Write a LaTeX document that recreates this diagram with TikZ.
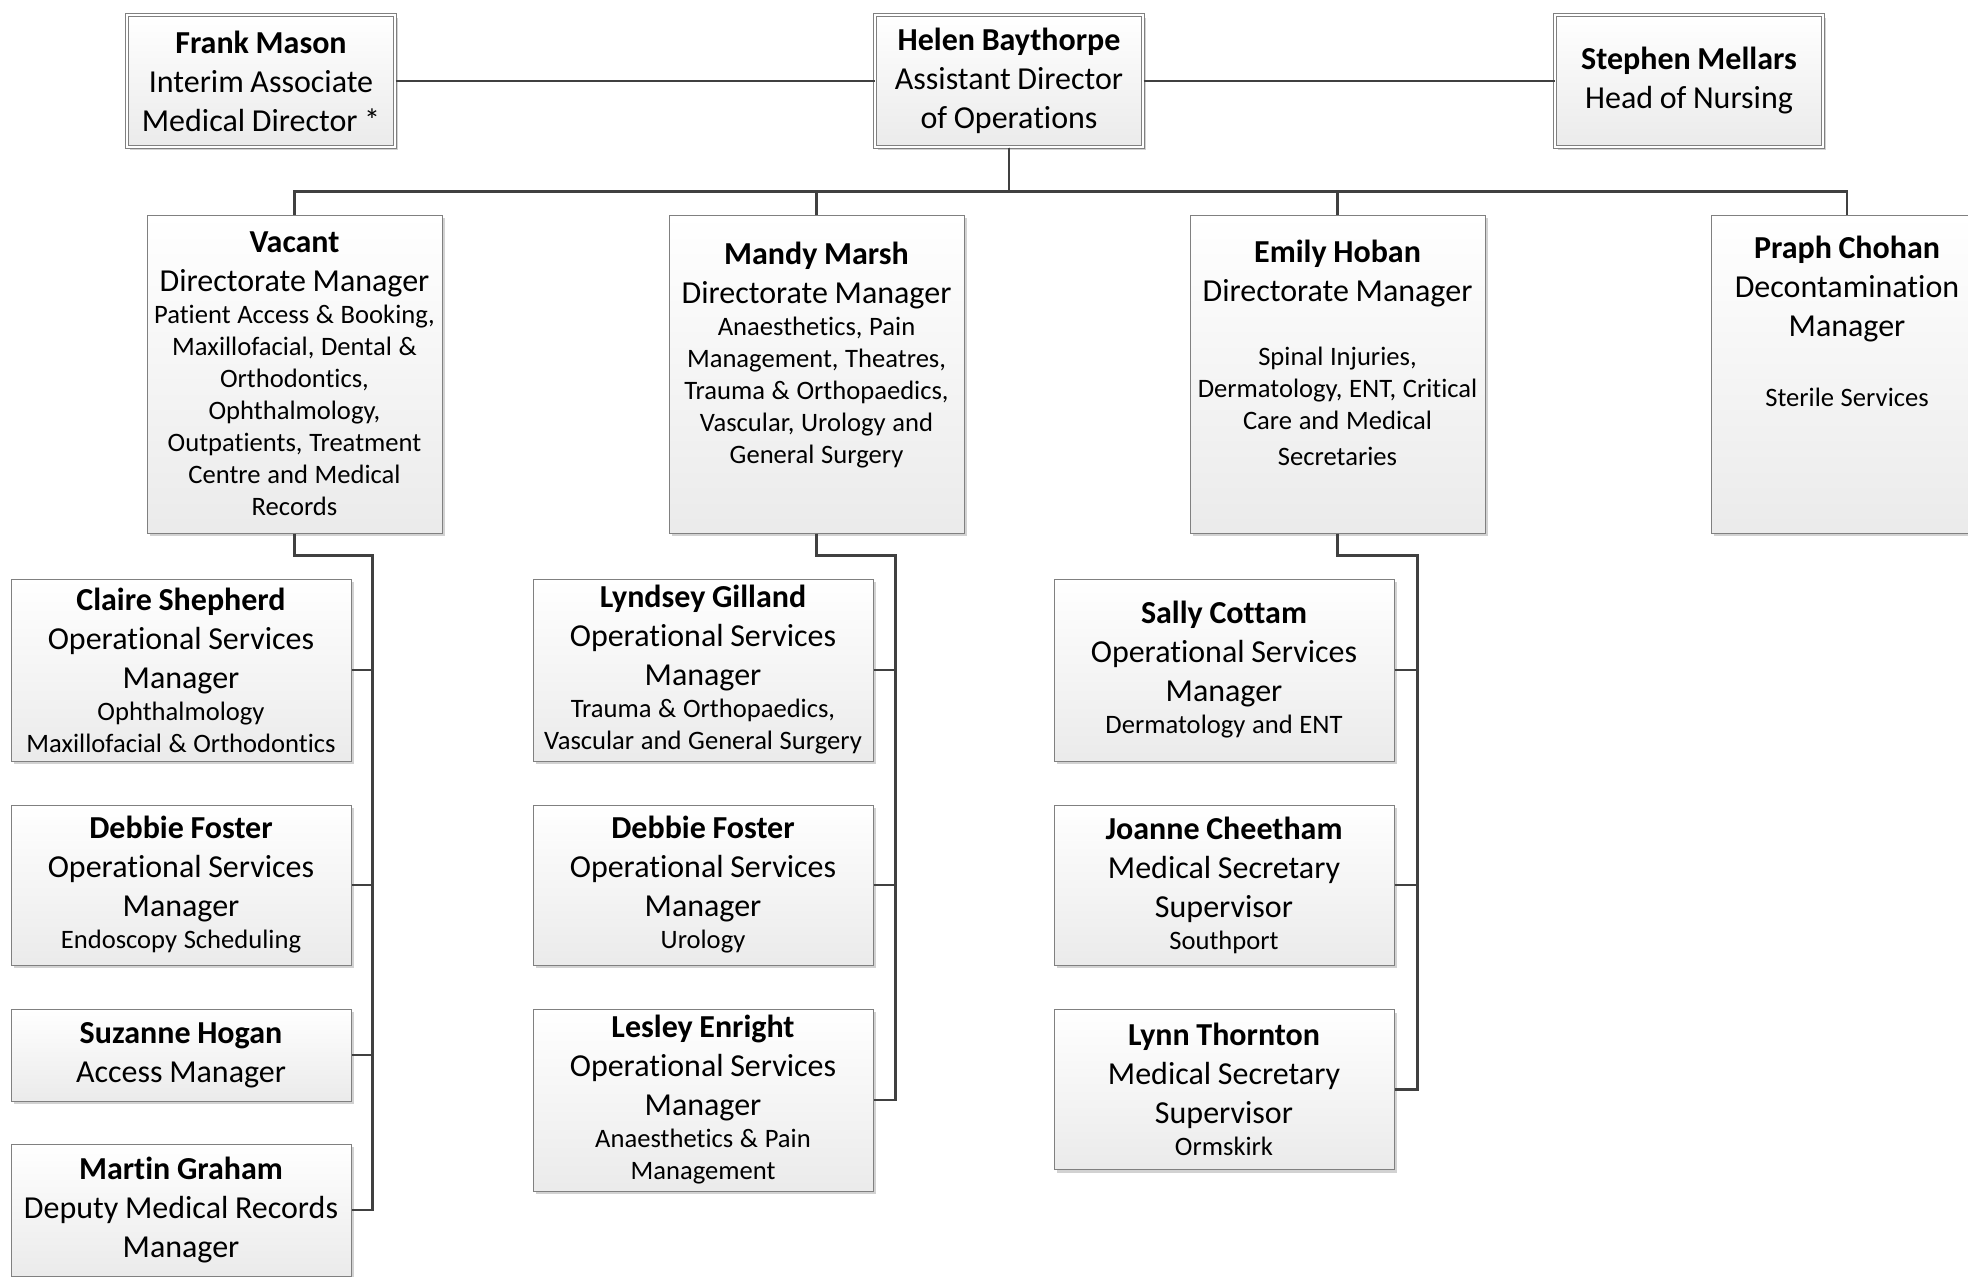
\documentclass[tikz,border=0pt]{standalone}
\usepackage{fontspec}
\setmainfont[Ligatures=NoCommon]{Carlito}
\usepackage{tikz}
\usetikzlibrary{shadows}
\setlength{\parindent}{0pt}
\setlength{\parskip}{0pt}

\newcommand{\pname}[1]{{\fontsize{16}{19.5}\selectfont\bfseries #1\par}}
\newcommand{\ptitle}[1]{{\fontsize{16}{19.5}\selectfont #1\par}}
\newcommand{\pdesc}[1]{{\fontsize{13.3}{16}\selectfont #1\par}}

\begin{document}
\begin{tikzpicture}[x=0.5pt, y=-0.5pt, node distance=107.5pt]
%
% Org chart: three people on top, four directorates below,
% staff hang off a line to the right of each directorate
%
\tikzstyle{topbox} = [rectangle, draw=black!50, line width=0.5pt, double=white, double distance=1.2pt, top color=white, bottom color=black!8, drop shadow={shadow xshift=1.5pt, shadow yshift=-1.5pt, fill=black!35, opacity=0.5}, text width=134pt, minimum height=66pt, inner sep=0pt, align=center]
\tikzstyle{dirbox} = [rectangle, draw=black!50, line width=0.5pt, top color=white, bottom color=black!8, drop shadow={shadow xshift=1.5pt, shadow yshift=-1.5pt, fill=black!35, opacity=0.5}, text width=147.5pt, minimum height=159pt, inner sep=0pt, align=center]
\tikzstyle{staffbox} = [rectangle, draw=black!50, line width=0.5pt, top color=white, bottom color=black!8, drop shadow={shadow xshift=1.5pt, shadow yshift=-1.5pt, fill=black!35, opacity=0.5}, text width=170pt, minimum height=80pt, inner sep=0pt, align=center]
\tikzstyle{link} = [draw=black!75, line width=1.2pt]
\useasboundingbox (0,0) rectangle (1968,1276);
% Nodes
\node (helen) [topbox] at (1009,81) {\pname{Helen Baythorpe}\ptitle{Assistant Director\\ of Operations}};
\node (frank) [topbox, left of=helen, xshift=-266.5pt] {\pname{Frank Mason}\ptitle{Interim Associate\\ Medical Director *}};
\node (stephen) [topbox, right of=helen, xshift=232.5pt] {\pname{Stephen Mellars}\ptitle{Head of Nursing}};

\node (vacant) [dirbox, below of=helen, xshift=-357.25pt, yshift=-39pt] {\pname{Vacant}\ptitle{Directorate Manager}\pdesc{Patient Access \& Booking,\\ Maxillofacial, Dental \&\\ Orthodontics,\\ Ophthalmology,\\ Outpatients, Treatment\\ Centre and Medical\\ Records}};
\node (mandy) [dirbox, below of=helen, xshift=-96.25pt, yshift=-39pt] {\pname{Mandy Marsh}\ptitle{Directorate Manager}\pdesc{Anaesthetics, Pain\\ Management, Theatres,\\ Trauma \& Orthopaedics,\\ Vascular, Urology and\\ General Surgery}\pdesc{\strut}};
\node (emily) [dirbox, below of=helen, xshift=164.25pt, yshift=-39pt] {\pname{Emily Hoban}\ptitle{Directorate Manager}\pdesc{\strut}\pdesc{Spinal Injuries,\\ Dermatology, ENT, Critical\\ Care and Medical\\[2pt] Secretaries}\pdesc{\strut}};
\node (praph) [dirbox, text width=136pt, below of=helen, xshift=419pt, yshift=-39pt] {\pname{Praph Chohan}\ptitle{Decontamination\\ Manager}\pdesc{\strut}\vspace{3pt}\pdesc{Sterile Services}\pdesc{\strut}\pdesc{\strut}\pdesc{\strut}};

\node (claire) [staffbox, minimum height=91pt, below of=vacant, xshift=-56.75pt, yshift=-40.5pt] {\pname{Claire Shepherd}\ptitle{Operational Services\\ Manager}\pdesc{Ophthalmology\\ Maxillofacial \& Orthodontics}};
\node (debbieA) [staffbox, below of=claire] {\pname{Debbie Foster}\ptitle{Operational Services\\ Manager}\pdesc{Endoscopy Scheduling}};
\node (suzanne) [staffbox, minimum height=46pt, below of=debbieA, yshift=22.5pt] {\pname{Suzanne Hogan}\ptitle{Access Manager}};
\node (martin) [staffbox, minimum height=66pt, below of=suzanne, yshift=30pt] {\pname{Martin Graham}\ptitle{Deputy Medical Records\\ Manager}};

\node (lyndsey) [staffbox, minimum height=91pt, below of=mandy, xshift=-56.75pt, yshift=-40.5pt] {\pname{Lyndsey Gilland}\ptitle{Operational Services\\ Manager}\pdesc{Trauma \& Orthopaedics,\\ Vascular and General Surgery}};
\node (debbieB) [staffbox, below of=lyndsey] {\pname{Debbie Foster}\ptitle{Operational Services\\ Manager}\pdesc{Urology}};
\node (lesley) [staffbox, minimum height=91pt, below of=debbieB] {\pname{Lesley Enright}\ptitle{Operational Services\\ Manager}\pdesc{Anaesthetics \& Pain\\ Management}};

\node (sally) [staffbox, minimum height=91pt, below of=emily, xshift=-56.75pt, yshift=-40.5pt] {\pname{Sally Cottam}\ptitle{Operational Services\\ Manager}\pdesc{Dermatology and ENT}};
\node (joanne) [staffbox, below of=sally] {\pname{Joanne Cheetham}\ptitle{Medical Secretary\\ Supervisor}\pdesc{Southport}};
\node (lynn) [staffbox, below of=joanne, yshift=5.25pt] {\pname{Lynn Thornton}\ptitle{Medical Secretary\\ Supervisor}\pdesc{Ormskirk}};

% Lines
\draw [link] (frank) -- (helen);
\draw [link] (helen) -- (stephen);
\draw [link] (helen.south) -- ++(0,-22pt) -| (vacant.north);
\draw [link] (helen.south) -- ++(0,-22pt) -| (mandy.north);
\draw [link] (helen.south) -- ++(0,-22pt) -| (emily.north);
\draw [link] (helen.south) -- ++(0,-22pt) -| (praph.north);

\draw [link] (vacant.south) -- ++(0,-11pt) -| ([xshift=10.5pt]martin.east) -- (martin.east);
\draw [link] (claire.east) -- ++(10.5pt,0);
\draw [link] (debbieA.east) -- ++(10.5pt,0);
\draw [link] (suzanne.east) -- ++(10.5pt,0);

\draw [link] (mandy.south) -- ++(0,-11pt) -| ([xshift=11pt]lesley.east) -- (lesley.east);
\draw [link] (lyndsey.east) -- ++(11pt,0);
\draw [link] (debbieB.east) -- ++(11pt,0);

\draw [link] (emily.south) -- ++(0,-11pt) -| ([xshift=11.5pt]lynn.east) -- (lynn.east);
\draw [link] (sally.east) -- ++(11.5pt,0);
\draw [link] (joanne.east) -- ++(11.5pt,0);

\end{tikzpicture}
\end{document}
